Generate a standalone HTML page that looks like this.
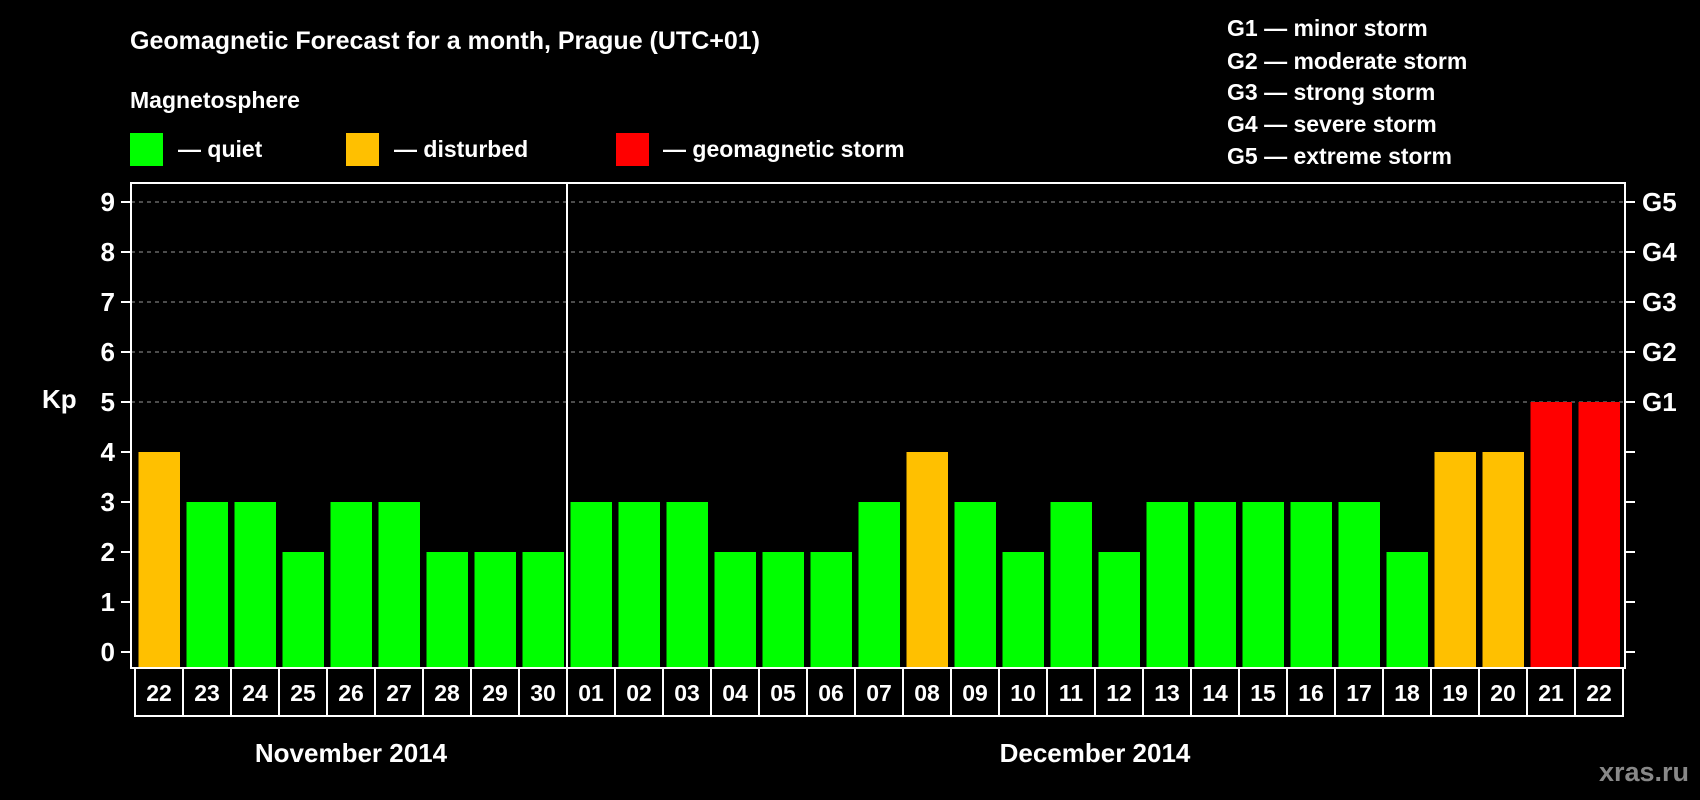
<!DOCTYPE html>
<html><head><meta charset="utf-8"><style>
html,body{margin:0;padding:0;background:#000;}
svg{display:block;font-family:"Liberation Sans",Arial,sans-serif;font-weight:bold;}
</style></head><body>
<svg id="chart" width="1700" height="800" viewBox="0 0 1700 800">
<rect width="1700" height="800" fill="#000"/>
<text x="130" y="49" fill="#fff" font-size="25">Geomagnetic Forecast for a month, Prague (UTC+01)</text>
<text x="130" y="108" fill="#fff" font-size="23">Magnetosphere</text>
<g>
<rect x="130" y="133" width="33" height="33" fill="#00ff00"/>
<text x="178" y="157" fill="#fff" font-size="23">— quiet</text>
<rect x="346" y="133" width="33" height="33" fill="#ffc000"/>
<text x="394" y="157" fill="#fff" font-size="23">— disturbed</text>
<rect x="616" y="133" width="33" height="33" fill="#ff0000"/>
<text x="663" y="157" fill="#fff" font-size="23">— geomagnetic storm</text>
</g>
<g fill="#fff" font-size="23">
<text x="1227" y="36">G1 — minor storm</text>
<text x="1227" y="69">G2 — moderate storm</text>
<text x="1227" y="100">G3 — strong storm</text>
<text x="1227" y="132">G4 — severe storm</text>
<text x="1227" y="164">G5 — extreme storm</text>
</g>
<text x="42" y="408" fill="#fff" font-size="26">Kp</text>
<text x="1689" y="781" fill="#888" font-size="27" text-anchor="end">xras.ru</text>
<g id="plot"></g>
</svg>
<script>
const days = ["22","23","24","25","26","27","28","29","30","01","02","03","04","05","06","07","08","09","10","11","12","13","14","15","16","17","18","19","20","21","22"];
const kpValues = [4,3,3,2,3,3,2,2,2,3,3,3,2,2,2,3,4,3,2,3,2,3,3,3,3,3,2,4,4,5,5];
const yTicks = [0,1,2,3,4,5,6,7,8,9];
const gLabels = ["G1","G2","G3","G4","G5"];
const gLevels = [5,6,7,8,9];
const months = ["November 2014","December 2014"];
const monthStarts = [0,9];

const NS="http://www.w3.org/2000/svg";
const plot=document.getElementById('plot');
const L=131,R=1625,T=183,B=668,LB=716;
const cellX0=135,cellW=48;
const yS=v=>652-v*50;
const xS=i=>cellX0+i*cellW;
function mk(tag,attrs,parent){const e=document.createElementNS(NS,tag);for(const k in attrs)e.setAttribute(k,attrs[k]);(parent||plot).appendChild(e);return e;}
function color(v){return v>=5?"#ff0000":(v>=4?"#ffc000":"#00ff00");}

yTicks.forEach(v=>{
  if(v>=5){const g=mk('line',{x1:L,x2:R,y1:yS(v),y2:yS(v),stroke:"#999","stroke-dasharray":"4,4","stroke-width":1});
  
  }
  const t=mk('line',{x1:L-10,x2:L,y1:yS(v),y2:yS(v),stroke:"#fff","stroke-width":2});
  
  
  const t2=mk('line',{x1:R,x2:R+10,y1:yS(v),y2:yS(v),stroke:"#fff","stroke-width":2});
  
  
  const tx=mk('text',{x:L-16,y:yS(v)+9,fill:"#fff","font-size":26,"text-anchor":"end"});
  tx.textContent=v;
  
  
});
gLabels.forEach((g,i)=>{
  const tx=mk('text',{x:1642,y:yS(gLevels[i])+9,fill:"#fff","font-size":26});
  tx.textContent=g;
  
  
});
kpValues.forEach((v,i)=>{
  const r=mk('rect',{x:xS(i)+3.5,y:yS(v),width:41.5,height:B-yS(v),fill:color(v)});
  
  
  const c=mk('rect',{x:xS(i),y:B,width:cellW,height:LB-B,fill:"none",stroke:"#fff","stroke-width":2});
  
  
  const t=mk('text',{x:xS(i)+cellW/2,y:B+33,fill:"#fff","font-size":23,"text-anchor":"middle"});
  t.textContent=days[i];
  
  
});
const box=mk('rect',{x:L,y:T,width:R-L,height:B-T,fill:"none",stroke:"#fff","stroke-width":2});


const div=mk('line',{x1:xS(monthStarts[1]),x2:xS(monthStarts[1]),y1:T,y2:LB,stroke:"#fff","stroke-width":2});


months.forEach((m,k)=>{
  const s=monthStarts[k],e=(k+1<monthStarts.length?monthStarts[k+1]:days.length);
  const t=mk('text',{x:(xS(s)+xS(e))/2,y:762,fill:"#fff","font-size":26,"text-anchor":"middle"});
  t.textContent=m;
  
  
});
</script>
</body></html>
